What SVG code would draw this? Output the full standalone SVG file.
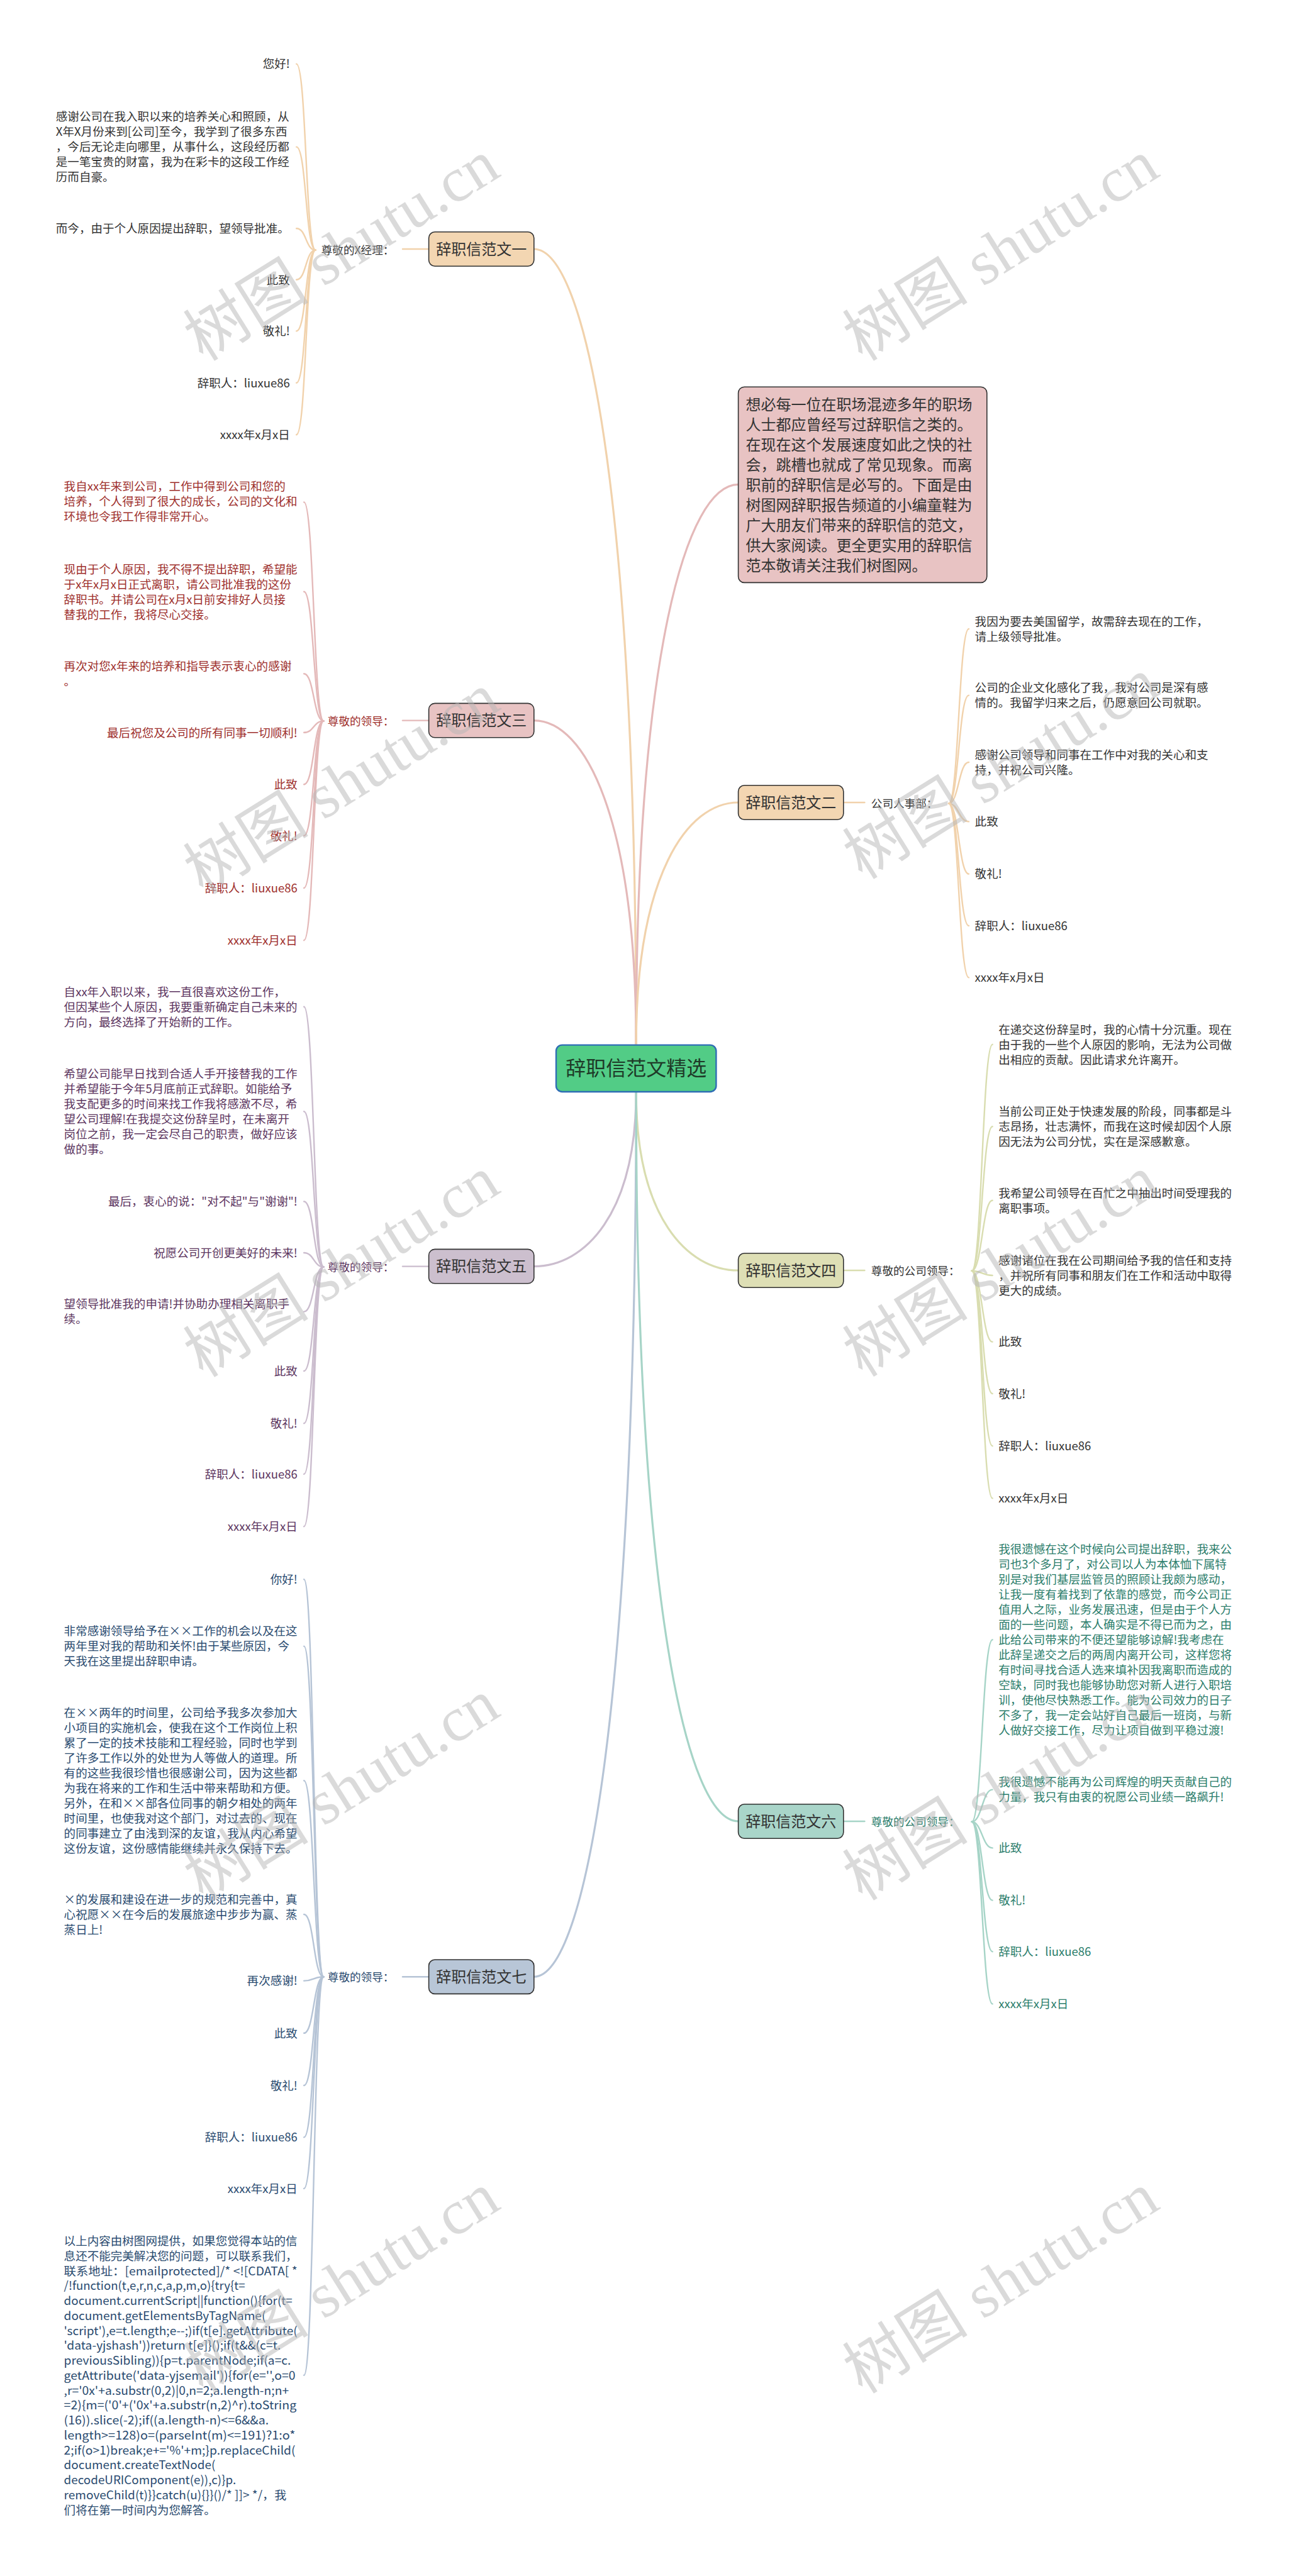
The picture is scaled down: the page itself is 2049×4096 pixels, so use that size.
<svg xmlns="http://www.w3.org/2000/svg" width="2049" height="4096" viewBox="0 0 2049 4096">
<style>
text{font-family:"Noto Sans CJK SC","Noto Sans",sans-serif}
.t{font-size:23.2px}
.l{font-size:22px}
.e{text-anchor:end}
.n{font-size:30px;fill:#333;text-anchor:middle}
.s1{fill:#333}
.s3{fill:#9e2f2c}
.s5{fill:#5c3560}
.s6{fill:#2b7d6b}
.s7{fill:#2a4b70}
.box{stroke:#333;stroke-width:2}
.k{fill:none;stroke-width:4;stroke-linecap:round}
.ks{fill:none;stroke-width:3;stroke-linecap:round}
.k1{stroke:#f1d2ac}.k3{stroke:#e4b9b9}.k4{stroke:#d9ddb0}.k5{stroke:#cbbdce}.k6{stroke:#a6d4c7}.k7{stroke:#b6c4d6}
.wm{font-family:"Liberation Serif","Noto Sans CJK SC",serif;font-size:125px;fill:#b5b5b5;fill-opacity:.5;text-anchor:middle}
</style>
<rect width="2049" height="4096" fill="#fff"/>
<g transform="scale(0.8)">
<g id="connectors">
<path class="k k1" d="M1264,2077 C1264,970 1162,495 1061,495"/>
<path class="k k3" d="M1264,2077 C1264,1625 1162,1432 1061,1432"/>
<path class="k k3" d="M1264,2077 C1264,1297 1365,963 1467,963"/>
<path class="k k1" d="M1264,2077 C1264,1740 1365,1595 1467,1595"/>
<path class="k k5" d="M1264,2170 C1264,2413 1162,2517 1061,2517"/>
<path class="k k7" d="M1264,2170 C1264,3401 1162,3929 1061,3929"/>
<path class="k k4" d="M1264,2170 C1264,2418 1365,2525 1467,2525"/>
<path class="k k6" d="M1264,2170 C1264,3185 1365,3620 1467,3620"/>
<path class="ks k1" d="M852,495 L800,495"/>
<path class="ks k3" d="M852,1432 L800,1432"/>
<path class="ks k5" d="M852,2517 L800,2517"/>
<path class="ks k7" d="M852,3929 L800,3929"/>
<path class="ks k1" d="M1676,1595 L1718,1595"/>
<path class="ks k4" d="M1676,2525 L1718,2525"/>
<path class="ks k6" d="M1676,3620 L1718,3620"/>
<g class="ks k1">
<path d="M627,497 C607,497 609,127 589,127"/>
<path d="M627,497 C607,497 609,292 589,292"/>
<path d="M627,497 C607,497 609,454 589,454"/>
<path d="M627,497 C607,497 609,556 589,556"/>
<path d="M627,497 C607,497 609,658 589,658"/>
<path d="M627,497 C607,497 609,761 589,761"/>
<path d="M627,497 C607,497 609,864 589,864"/>
</g>
<g class="ks k3">
<path d="M643,1433 C623,1433 624,998 604,998"/>
<path d="M643,1433 C623,1433 624,1176 604,1176"/>
<path d="M643,1433 C623,1433 624,1339 604,1339"/>
<path d="M643,1433 C623,1433 624,1456 604,1456"/>
<path d="M643,1433 C623,1433 624,1559 604,1559"/>
<path d="M643,1433 C623,1433 624,1661 604,1661"/>
<path d="M643,1433 C623,1433 624,1765 604,1765"/>
<path d="M643,1433 C623,1433 624,1869 604,1869"/>
</g>
<g class="ks k5">
<path d="M643,2518 C623,2518 624,2001 604,2001"/>
<path d="M643,2518 C623,2518 624,2209 604,2209"/>
<path d="M643,2518 C623,2518 624,2388 604,2388"/>
<path d="M643,2518 C623,2518 624,2490 604,2490"/>
<path d="M643,2518 C623,2518 624,2607 604,2607"/>
<path d="M643,2518 C623,2518 624,2725 604,2725"/>
<path d="M643,2518 C623,2518 624,2829 604,2829"/>
<path d="M643,2518 C623,2518 624,2930 604,2930"/>
<path d="M643,2518 C623,2518 624,3034 604,3034"/>
</g>
<g class="ks k7">
<path d="M643,3929 C623,3929 624,3139 604,3139"/>
<path d="M643,3929 C623,3929 624,3272 604,3272"/>
<path d="M643,3929 C623,3929 624,3539 604,3539"/>
<path d="M643,3929 C623,3929 624,3805 604,3805"/>
<path d="M643,3929 C623,3929 624,3937 604,3937"/>
<path d="M643,3929 C623,3929 624,4041 604,4041"/>
<path d="M643,3929 C623,3929 624,4145 604,4145"/>
<path d="M643,3929 C623,3929 624,4248 604,4248"/>
<path d="M643,3929 C623,3929 624,4350 604,4350"/>
<path d="M643,3929 C623,3929 624,4721 604,4721"/>
</g>
<g class="ks k1">
<path d="M1885,1597 C1905,1597 1905,1250 1925,1250"/>
<path d="M1885,1597 C1905,1597 1905,1382 1925,1382"/>
<path d="M1885,1597 C1905,1597 1905,1515 1925,1515"/>
<path d="M1885,1597 C1905,1597 1905,1633 1925,1633"/>
<path d="M1885,1597 C1905,1597 1905,1737 1925,1737"/>
<path d="M1885,1597 C1905,1597 1905,1840 1925,1840"/>
<path d="M1885,1597 C1905,1597 1905,1943 1925,1943"/>
</g>
<g class="ks k4">
<path d="M1931,2526 C1951,2526 1952,2076 1972,2076"/>
<path d="M1931,2526 C1951,2526 1952,2239 1972,2239"/>
<path d="M1931,2526 C1951,2526 1952,2386 1972,2386"/>
<path d="M1931,2526 C1951,2526 1952,2535 1972,2535"/>
<path d="M1931,2526 C1951,2526 1952,2667 1972,2667"/>
<path d="M1931,2526 C1951,2526 1952,2770 1972,2770"/>
<path d="M1931,2526 C1951,2526 1952,2874 1972,2874"/>
<path d="M1931,2526 C1951,2526 1952,2978 1972,2978"/>
</g>
<g class="ks k6">
<path d="M1931,3621 C1951,3621 1952,3259 1972,3259"/>
<path d="M1931,3621 C1951,3621 1952,3557 1972,3557"/>
<path d="M1931,3621 C1951,3621 1952,3673 1972,3673"/>
<path d="M1931,3621 C1951,3621 1952,3777 1972,3777"/>
<path d="M1931,3621 C1951,3621 1952,3879 1972,3879"/>
<path d="M1931,3621 C1951,3621 1952,3983 1972,3983"/>
</g>
</g>

<g id="root">
<rect x="1105" y="2077" width="318" height="93" rx="12" fill="#52cc86" stroke="#2f6db5" stroke-width="3"/>
<text x="1264" y="2138" style="font-size:40px;fill:#1e3a28;text-anchor:middle">辞职信范文精选</text>
</g>

<g id="intro">
<rect x="1467" y="769" width="494" height="389" rx="12" fill="#e8c3c3" class="box"/>
<text style="font-size:30px;fill:#333">
<tspan x="1482" y="815">想必每一位在职场混迹多年的职场</tspan>
<tspan x="1482" y="855">人士都应曾经写过辞职信之类的。</tspan>
<tspan x="1482" y="895">在现在这个发展速度如此之快的社</tspan>
<tspan x="1482" y="935">会，跳槽也就成了常见现象。而离</tspan>
<tspan x="1482" y="975">职前的辞职信是必写的。下面是由</tspan>
<tspan x="1482" y="1015">树图网辞职报告频道的小编童鞋为</tspan>
<tspan x="1482" y="1055">广大朋友们带来的辞职信的范文，</tspan>
<tspan x="1482" y="1095">供大家阅读。更全更实用的辞职信</tspan>
<tspan x="1482" y="1135">范本敬请关注我们树图网。</tspan>
</text>
</g>

<g id="n1">
<rect x="852" y="461" width="209" height="68" rx="12" fill="#f3d6b2" class="box"/>
<text class="n" x="956.5" y="506">辞职信范文一</text>
<text class="l s1 e" x="783" y="505">尊敬的X经理：</text>
<text class="t s1 e" x="576" y="135.5">您好!</text>
<text class="t s1"><tspan x="111" y="240.5">感谢公司在我入职以来的培养关心和照顾，从</tspan><tspan x="111" y="270.5">X年X月份来到[公司]至今，我学到了很多东西</tspan><tspan x="111" y="300.5">，今后无论走向哪里，从事什么，这段经历都</tspan><tspan x="111" y="330.5">是一笔宝贵的财富，我为在彩卡的这段工作经</tspan><tspan x="111" y="360.5">历而自豪。</tspan></text>
<text class="t s1" x="111" y="462.5">而今，由于个人原因提出辞职，望领导批准。</text>
<text class="t s1 e" x="576" y="564.5">此致</text>
<text class="t s1 e" x="576" y="666.5">敬礼!</text>
<text class="t s1 e" x="576" y="769.5">辞职人：liuxue86</text>
<text class="t s1 e" x="576" y="872.5">xxxx年x月x日</text>
</g>

<g id="n3">
<rect x="852" y="1398" width="209" height="68" rx="12" fill="#e8c3c3" class="box"/>
<text class="n" x="956.5" y="1443">辞职信范文三</text>
<text class="l s3 e" x="783" y="1441">尊敬的领导：</text>
<text class="t s3"><tspan x="127" y="975.5">我自xx年来到公司，工作中得到公司和您的</tspan><tspan x="127" y="1005.5">培养，个人得到了很大的成长，公司的文化和</tspan><tspan x="127" y="1035.5">环境也令我工作得非常开心。</tspan></text>
<text class="t s3"><tspan x="127" y="1139.5">现由于个人原因，我不得不提出辞职，希望能</tspan><tspan x="127" y="1169.5">于x年x月x日正式离职，请公司批准我的这份</tspan><tspan x="127" y="1199.5">辞职书。并请公司在x月x日前安排好人员接</tspan><tspan x="127" y="1229.5">替我的工作，我将尽心交接。</tspan></text>
<text class="t s3"><tspan x="127" y="1332.5">再次对您x年来的培养和指导表示衷心的感谢</tspan><tspan x="127" y="1362.5">。</tspan></text>
<text class="t s3 e" x="591" y="1464.5">最后祝您及公司的所有同事一切顺利!</text>
<text class="t s3 e" x="591" y="1567.5">此致</text>
<text class="t s3 e" x="591" y="1669.5">敬礼!</text>
<text class="t s3 e" x="591" y="1773.5">辞职人：liuxue86</text>
<text class="t s3 e" x="591" y="1877.5">xxxx年x月x日</text>
</g>

<g id="n5">
<rect x="852" y="2483" width="209" height="68" rx="12" fill="#ccbfce" class="box"/>
<text class="n" x="956.5" y="2528">辞职信范文五</text>
<text class="l s5 e" x="783" y="2526">尊敬的领导：</text>
<text class="t s5"><tspan x="127" y="1979.5">自xx年入职以来，我一直很喜欢这份工作，</tspan><tspan x="127" y="2009.5">但因某些个人原因，我要重新确定自己未来的</tspan><tspan x="127" y="2039.5">方向，最终选择了开始新的工作。</tspan></text>
<text class="t s5"><tspan x="127" y="2142.5">希望公司能早日找到合适人手开接替我的工作</tspan><tspan x="127" y="2172.5">并希望能于今年5月底前正式辞职。如能给予</tspan><tspan x="127" y="2202.5">我支配更多的时间来找工作我将感激不尽，希</tspan><tspan x="127" y="2232.5">望公司理解!在我提交这份辞呈时，在未离开</tspan><tspan x="127" y="2262.5">岗位之前，我一定会尽自己的职责，做好应该</tspan><tspan x="127" y="2292.5">做的事。</tspan></text>
<text class="t s5 e" x="591" y="2396.5">最后，衷心的说："对不起"与"谢谢"!</text>
<text class="t s5 e" x="591" y="2498.5">祝愿公司开创更美好的未来!</text>
<text class="t s5"><tspan x="127" y="2600.5">望领导批准我的申请!并协助办理相关离职手</tspan><tspan x="127" y="2630.5">续。</tspan></text>
<text class="t s5 e" x="591" y="2733.5">此致</text>
<text class="t s5 e" x="591" y="2837.5">敬礼!</text>
<text class="t s5 e" x="591" y="2938.5">辞职人：liuxue86</text>
<text class="t s5 e" x="591" y="3042.5">xxxx年x月x日</text>
</g>

<g id="n7">
<rect x="852" y="3895" width="209" height="68" rx="12" fill="#b8c6d7" class="box"/>
<text class="n" x="956.5" y="3940">辞职信范文七</text>
<text class="l s7 e" x="783" y="3937">尊敬的领导：</text>
<text class="t s7 e" x="591" y="3147.5">你好!</text>
<text class="t s7"><tspan x="127" y="3250.5">非常感谢领导给予在××工作的机会以及在这</tspan><tspan x="127" y="3280.5">两年里对我的帮助和关怀!由于某些原因，今</tspan><tspan x="127" y="3310.5">天我在这里提出辞职申请。</tspan></text>
<text class="t s7"><tspan x="127" y="3412.5">在××两年的时间里，公司给予我多次参加大</tspan><tspan x="127" y="3442.5">小项目的实施机会，使我在这个工作岗位上积</tspan><tspan x="127" y="3472.5">累了一定的技术技能和工程经验，同时也学到</tspan><tspan x="127" y="3502.5">了许多工作以外的处世为人等做人的道理。所</tspan><tspan x="127" y="3532.5">有的这些我很珍惜也很感谢公司，因为这些都</tspan><tspan x="127" y="3562.5">为我在将来的工作和生活中带来帮助和方便。</tspan><tspan x="127" y="3592.5">另外，在和××部各位同事的朝夕相处的两年</tspan><tspan x="127" y="3622.5">时间里，也使我对这个部门，对过去的、现在</tspan><tspan x="127" y="3652.5">的同事建立了由浅到深的友谊，我从内心希望</tspan><tspan x="127" y="3682.5">这份友谊，这份感情能继续并永久保持下去。</tspan></text>
<text class="t s7"><tspan x="127" y="3783.5">×的发展和建设在进一步的规范和完善中，真</tspan><tspan x="127" y="3813.5">心祝愿××在今后的发展旅途中步步为赢、蒸</tspan><tspan x="127" y="3843.5">蒸日上!</tspan></text>
<text class="t s7 e" x="591" y="3945.5">再次感谢!</text>
<text class="t s7 e" x="591" y="4049.5">此致</text>
<text class="t s7 e" x="591" y="4153.5">敬礼!</text>
<text class="t s7 e" x="591" y="4256.5">辞职人：liuxue86</text>
<text class="t s7 e" x="591" y="4358.5">xxxx年x月x日</text>
<g class="t s7">
<text x="127" y="4462.5">以上内容由树图网提供，如果您觉得本站的信</text>
<text x="127" y="4492.2">息还不能完美解决您的问题，可以联系我们，</text>
<text x="127" y="4521.9" textLength="464" lengthAdjust="spacingAndGlyphs">联系地址：[emailprotected]/* &lt;![CDATA[ *</text>
<text x="127" y="4551.6" textLength="360" lengthAdjust="spacingAndGlyphs">/!function(t,e,r,n,c,a,p,m,o){try{t=</text>
<text x="127" y="4581.3" textLength="454" lengthAdjust="spacingAndGlyphs">document.currentScript||function(){for(t=</text>
<text x="127" y="4611" textLength="401" lengthAdjust="spacingAndGlyphs">document.getElementsByTagName(</text>
<text x="127" y="4640.7" textLength="464" lengthAdjust="spacingAndGlyphs">'script'),e=t.length;e--;)if(t[e].getAttribute(</text>
<text x="127" y="4670.4" textLength="431" lengthAdjust="spacingAndGlyphs">'data-yjshash'))return t[e]}();if(t&amp;&amp;(c=t.</text>
<text x="127" y="4700.1" textLength="451" lengthAdjust="spacingAndGlyphs">previousSibling)){p=t.parentNode;if(a=c.</text>
<text x="127" y="4729.8" textLength="460" lengthAdjust="spacingAndGlyphs">getAttribute('data-yjsemail')){for(e='',o=0</text>
<text x="127" y="4759.5" textLength="447" lengthAdjust="spacingAndGlyphs">,r='0x'+a.substr(0,2)|0,n=2;a.length-n;n+</text>
<text x="127" y="4789.2" textLength="462" lengthAdjust="spacingAndGlyphs">=2){m=('0'+('0x'+a.substr(n,2)^r).toString</text>
<text x="127" y="4818.9" textLength="407" lengthAdjust="spacingAndGlyphs">(16)).slice(-2);if((a.length-n)&lt;=6&amp;&amp;a.</text>
<text x="127" y="4848.6" textLength="460" lengthAdjust="spacingAndGlyphs">length&gt;=128)o=(parseInt(m)&lt;=191)?1:o*</text>
<text x="127" y="4878.3" textLength="460" lengthAdjust="spacingAndGlyphs">2;if(o&gt;1)break;e+='%'+m;}p.replaceChild(</text>
<text x="127" y="4908" textLength="301" lengthAdjust="spacingAndGlyphs">document.createTextNode(</text>
<text x="127" y="4937.7" textLength="342" lengthAdjust="spacingAndGlyphs">decodeURIComponent(e)),c)}p.</text>
<text x="127" y="4967.4" textLength="442" lengthAdjust="spacingAndGlyphs">removeChild(t)}}catch(u){}}()/* ]]&gt; */，我</text>
<text x="127" y="4997.1">们将在第一时间内为您解答。</text>
</g>
</g>

<g id="n2">
<rect x="1467" y="1561" width="209" height="68" rx="12" fill="#f3d6b2" class="box"/>
<text class="n" x="1571.5" y="1606">辞职信范文二</text>
<text class="l s1" x="1731" y="1605">公司人事部：</text>
<text class="t s1"><tspan x="1937" y="1243.5">我因为要去美国留学，故需辞去现在的工作，</tspan><tspan x="1937" y="1273.5">请上级领导批准。</tspan></text>
<text class="t s1"><tspan x="1937" y="1375.5">公司的企业文化感化了我，我对公司是深有感</tspan><tspan x="1937" y="1405.5">情的。我留学归来之后，仍愿意回公司就职。</tspan></text>
<text class="t s1"><tspan x="1937" y="1508.5">感谢公司领导和同事在工作中对我的关心和支</tspan><tspan x="1937" y="1538.5">持，并祝公司兴隆。</tspan></text>
<text class="t s1" x="1937" y="1641.5">此致</text>
<text class="t s1" x="1937" y="1745.5">敬礼!</text>
<text class="t s1" x="1937" y="1848.5">辞职人：liuxue86</text>
<text class="t s1" x="1937" y="1951.5">xxxx年x月x日</text>
</g>

<g id="n4">
<rect x="1467" y="2491" width="209" height="68" rx="12" fill="#dedfb5" class="box"/>
<text class="n" x="1571.5" y="2536">辞职信范文四</text>
<text class="l s1" x="1731" y="2534">尊敬的公司领导：</text>
<text class="t s1"><tspan x="1984" y="2054.5">在递交这份辞呈时，我的心情十分沉重。现在</tspan><tspan x="1984" y="2084.5">由于我的一些个人原因的影响，无法为公司做</tspan><tspan x="1984" y="2114.5">出相应的贡献。因此请求允许离开。</tspan></text>
<text class="t s1"><tspan x="1984" y="2217.5">当前公司正处于快速发展的阶段，同事都是斗</tspan><tspan x="1984" y="2247.5">志昂扬，壮志满怀，而我在这时候却因个人原</tspan><tspan x="1984" y="2277.5">因无法为公司分忧，实在是深感歉意。</tspan></text>
<text class="t s1"><tspan x="1984" y="2379.5">我希望公司领导在百忙之中抽出时间受理我的</tspan><tspan x="1984" y="2409.5">离职事项。</tspan></text>
<text class="t s1"><tspan x="1984" y="2513.5">感谢诸位在我在公司期间给予我的信任和支持</tspan><tspan x="1984" y="2543.5">，并祝所有同事和朋友们在工作和活动中取得</tspan><tspan x="1984" y="2573.5">更大的成绩。</tspan></text>
<text class="t s1" x="1984" y="2675.5">此致</text>
<text class="t s1" x="1984" y="2778.5">敬礼!</text>
<text class="t s1" x="1984" y="2882.5">辞职人：liuxue86</text>
<text class="t s1" x="1984" y="2986.5">xxxx年x月x日</text>
</g>

<g id="n6">
<rect x="1467" y="3586" width="209" height="68" rx="12" fill="#a9d5c9" class="box"/>
<text class="n" x="1571.5" y="3631">辞职信范文六</text>
<text class="l s6" x="1731" y="3629">尊敬的公司领导：</text>
<text class="t s6"><tspan x="1984" y="3087.5">我很遗憾在这个时候向公司提出辞职，我来公</tspan><tspan x="1984" y="3117.5">司也3个多月了，对公司以人为本体恤下属特</tspan><tspan x="1984" y="3147.5">别是对我们基层监管员的照顾让我颇为感动，</tspan><tspan x="1984" y="3177.5">让我一度有着找到了依靠的感觉，而今公司正</tspan><tspan x="1984" y="3207.5">值用人之际，业务发展迅速，但是由于个人方</tspan><tspan x="1984" y="3237.5">面的一些问题，本人确实是不得已而为之，由</tspan><tspan x="1984" y="3267.5">此给公司带来的不便还望能够谅解!我考虑在</tspan><tspan x="1984" y="3297.5">此辞呈递交之后的两周内离开公司，这样您将</tspan><tspan x="1984" y="3327.5">有时间寻找合适人选来填补因我离职而造成的</tspan><tspan x="1984" y="3357.5">空缺，同时我也能够协助您对新人进行入职培</tspan><tspan x="1984" y="3387.5">训，使他尽快熟悉工作。能为公司效力的日子</tspan><tspan x="1984" y="3417.5">不多了，我一定会站好自己最后一班岗，与新</tspan><tspan x="1984" y="3447.5">人做好交接工作，尽力让项目做到平稳过渡!</tspan></text>
<text class="t s6"><tspan x="1984" y="3550.5">我很遗憾不能再为公司辉煌的明天贡献自己的</tspan><tspan x="1984" y="3580.5">力量，我只有由衷的祝愿公司业绩一路飙升!</tspan></text>
<text class="t s6" x="1984" y="3681.5">此致</text>
<text class="t s6" x="1984" y="3785.5">敬礼!</text>
<text class="t s6" x="1984" y="3887.5">辞职人：liuxue86</text>
<text class="t s6" x="1984" y="3991.5">xxxx年x月x日</text>
</g>

<g id="watermarks">
<text class="wm" transform="translate(680,500) rotate(-32)" y="40">树图 shutu.cn</text>
<text class="wm" transform="translate(1990,500) rotate(-32)" y="40">树图 shutu.cn</text>
<text class="wm" transform="translate(680,1560) rotate(-32)" y="40">树图 shutu.cn</text>
<text class="wm" transform="translate(1990,1530) rotate(-32)" y="40">树图 shutu.cn</text>
<text class="wm" transform="translate(680,2520) rotate(-32)" y="40">树图 shutu.cn</text>
<text class="wm" transform="translate(1990,2519) rotate(-32)" y="40">树图 shutu.cn</text>
<text class="wm" transform="translate(680,3560) rotate(-32)" y="40">树图 shutu.cn</text>
<text class="wm" transform="translate(1990,3560) rotate(-32)" y="40">树图 shutu.cn</text>
<text class="wm" transform="translate(680,4540) rotate(-32)" y="40">树图 shutu.cn</text>
<text class="wm" transform="translate(1990,4540) rotate(-32)" y="40">树图 shutu.cn</text>
</g>
</g>
</svg>
